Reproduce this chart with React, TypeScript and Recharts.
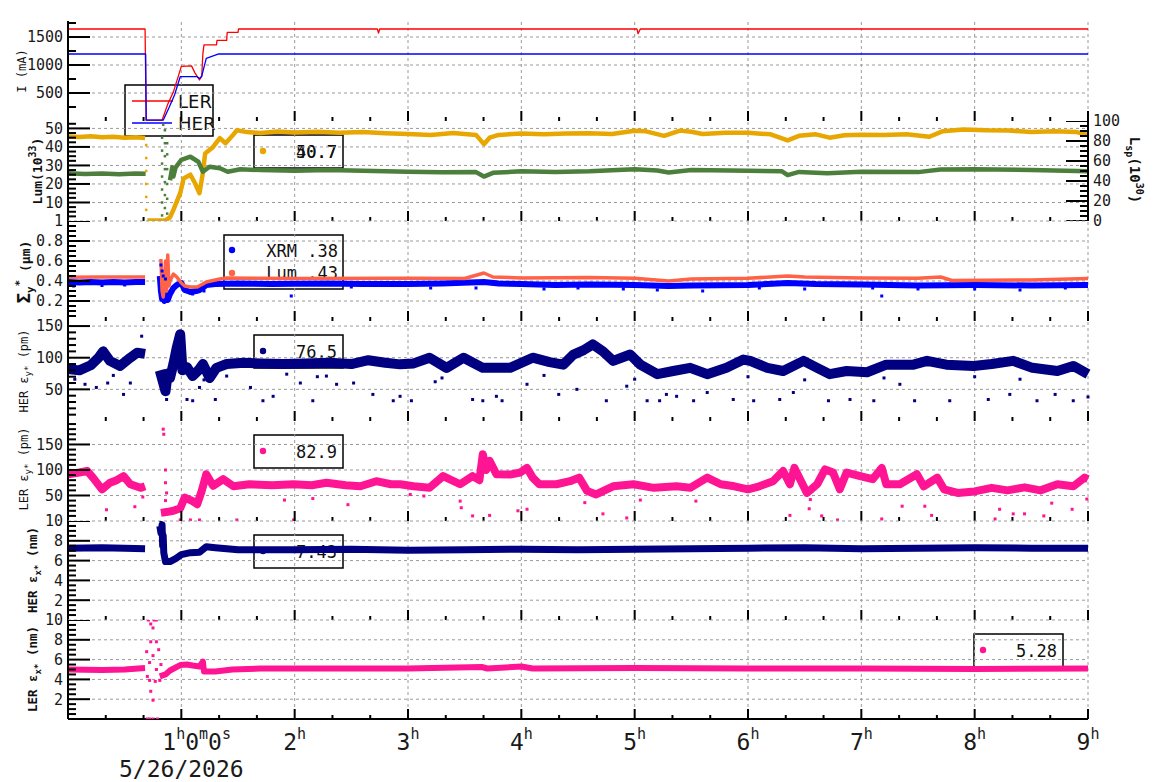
import React from "react";
import { ComposedChart, Line, Scatter, XAxis, YAxis, ReferenceLine } from "recharts";

type Pt = [number, number | null];

const FONT = "'DejaVu Sans Mono', monospace";
const AX = { stroke: "#000", strokeWidth: 2 };
const GRID = "#9a9a9a";

const HOURS = [1, 2, 3, 4, 5, 6, 7, 8, 9];
const X_TICKS = Array.from({ length: 28 }, (_, i) => i / 3);
const DATE_LABEL = "5/26/2026";

// beam currents, mA
const LER_I: Pt[] = [
  [0, 1643], [0.3, 1643], [0.68, 1643], [0.685, 820], [0.69, 15], [0.83, 15], [0.88, 300], [0.93, 520],
  [0.97, 780], [1.0, 975], [1.09, 985], [1.12, 860], [1.16, 732], [1.18, 800], [1.19, 1200], [1.2, 1360],
  [1.31, 1360], [1.315, 1440], [1.4, 1440], [1.405, 1584], [1.5, 1584], [1.505, 1643], [2.73, 1643],
  [2.74, 1570], [2.75, 1643], [5.02, 1643], [5.03, 1560], [5.05, 1643], [9, 1643],
];
const HER_I: Pt[] = [
  [0, 1197], [0.3, 1197], [0.685, 1197], [0.69, 15], [0.84, 15], [0.89, 232], [0.94, 464], [0.99, 791],
  [1.14, 791], [1.16, 760], [1.18, 800], [1.22, 1120], [1.33, 1197], [9, 1197],
];

// luminosity (10^33)
const LUM: Pt[] = [
  [0, 45.6], [0.1, 45.3], [0.2, 45.8], [0.3, 45.2], [0.4, 45.5], [0.5, 44.9], [0.6, 45.2], [0.68, 44.8],
  [0.69, null], [0.7, 0.3], [0.86, 0.3], [0.9, 2], [0.93, 6], [0.99, 15], [1.02, 23], [1.08, 25], [1.12, 20.5],
  [1.16, 15], [1.19, 26], [1.21, 36.5], [1.28, 40], [1.34, 44.8], [1.39, 42], [1.45, 46], [1.49, 49],
  [1.58, 48], [1.7, 47.5], [1.85, 48.3], [2.0, 47.8], [2.2, 48.2], [2.4, 47.6], [2.6, 48.0], [2.8, 47.4],
  [3.0, 47.0], [3.2, 46.5], [3.4, 47.5], [3.6, 46.5], [3.67, 41.5], [3.72, 45], [3.8, 46.5], [4.0, 47.2],
  [4.2, 46.8], [4.4, 47.3], [4.6, 47.4], [4.8, 47.0], [5.0, 48.7], [5.1, 48.4], [5.26, 46.0], [5.4, 48.8],
  [5.5, 48.2], [5.6, 47.0], [5.8, 47.6], [6.0, 47.6], [6.2, 46.8], [6.35, 43.5], [6.45, 46.0], [6.6, 46.8],
  [6.72, 45.0], [6.85, 46.3], [7.0, 46.6], [7.2, 46.5], [7.4, 46.8], [7.6, 45.5], [7.72, 48.5], [7.9, 49.4],
  [8.1, 49.0], [8.3, 48.9], [8.5, 48.0], [8.7, 48.4], [8.9, 48.0], [9.0, 46.5],
];
const LUM_DROP: Pt[] = [[0.69, 6], [0.69, 13], [0.69, 20], [0.69, 27], [0.69, 34], [0.69, 41]];
const LSP: Pt[] = [
  [0, 25.8], [0.15, 25.4], [0.3, 25.7], [0.45, 25.3], [0.6, 25.6], [0.685, 25.5], [0.69, null],
  [0.9, 22], [0.92, 29], [0.93, 24], [0.95, 29], [1.0, 33], [1.08, 34.7], [1.15, 32], [1.19, 26.6],
  [1.25, 29.3], [1.34, 28.5], [1.41, 26.6], [1.52, 27.9], [1.7, 27.5], [2.0, 27.2], [2.3, 27.5], [2.6, 27.1],
  [3.0, 26.6], [3.3, 26.3], [3.6, 26.4], [3.67, 24.0], [3.75, 26.0], [4.0, 26.8], [4.3, 26.5], [4.6, 26.8],
  [5.0, 28.0], [5.2, 27.3], [5.3, 26.2], [5.5, 27.5], [6.0, 27.2], [6.3, 26.8], [6.35, 24.8], [6.45, 26.5],
  [6.7, 25.8], [7.0, 26.6], [7.5, 26.4], [7.7, 27.8], [8.0, 28.0], [8.5, 27.6], [9.0, 26.8],
];
const LSP_SPIKES: Pt[] = [
  [0.83, 3], [0.83, 10], [0.83, 17], [0.83, 24], [0.83, 31], [0.83, 38], [0.83, 45], [0.84, 52],
  [0.855, 49], [0.855, 42], [0.855, 35], [0.855, 28], [0.855, 21], [0.855, 14], [0.855, 7],
  [0.875, 4], [0.875, 12], [0.875, 20], [0.875, 28], [0.875, 36], [0.875, 42],
];

// vertical beam size (um)
const SIG_XRM: Pt[] = [
  [0, 0.39], [0.1, 0.385], [0.2, 0.39], [0.3, 0.385], [0.4, 0.39], [0.5, 0.385], [0.6, 0.39], [0.68, 0.39],
  [0.69, null], [0.81, 0.45], [0.82, 0.3], [0.83, 0.22], [0.84, 0.26], [0.85, 0.2], [0.86, 0.3], [0.87, 0.24],
  [0.88, 0.21], [0.9, 0.27], [0.93, 0.33], [0.96, 0.36], [1.0, 0.38], [1.03, 0.31], [1.08, 0.29], [1.13, 0.3],
  [1.16, 0.31], [1.22, 0.36], [1.3, 0.37], [1.5, 0.375], [1.8, 0.37], [2.0, 0.372], [2.3, 0.375], [2.6, 0.37],
  [3.0, 0.37], [3.3, 0.375], [3.67, 0.39], [3.8, 0.375], [4.0, 0.37], [4.3, 0.36], [4.6, 0.365], [5.0, 0.36],
  [5.3, 0.35], [5.5, 0.355], [6.0, 0.36], [6.35, 0.38], [6.6, 0.37], [7.0, 0.365], [7.5, 0.355], [8.0, 0.36],
  [8.5, 0.355], [9.0, 0.36],
];
const SIG_XRM_OUT: Pt[] = [
  [0.05, 0.35], [0.3, 0.355], [0.5, 0.36], [0.82, 0.56], [0.83, 0.5], [0.84, 0.45], [0.86, 0.42], [1.1, 0.27],
  [1.2, 0.3], [1.97, 0.25], [2.5, 0.34], [3.2, 0.33], [3.6, 0.33], [4.2, 0.32], [4.5, 0.33], [4.9, 0.32],
  [5.2, 0.31], [5.6, 0.3], [6.1, 0.33], [6.5, 0.32], [7.1, 0.33], [7.18, 0.25], [7.5, 0.32], [8.0, 0.32],
  [8.4, 0.31], [8.8, 0.33],
];
const SIG_LUM: Pt[] = [
  [0, 0.437], [0.3, 0.44], [0.68, 0.44], [0.69, null], [0.82, 0.62], [0.83, 0.3], [0.84, 0.24], [0.85, 0.35],
  [0.86, 0.6], [0.87, 0.3], [0.88, 0.66], [0.89, 0.35], [0.9, 0.4], [0.93, 0.47], [0.96, 0.44], [1.0, 0.38],
  [1.03, 0.35], [1.08, 0.34], [1.14, 0.34], [1.19, 0.37], [1.22, 0.39], [1.3, 0.41], [1.34, 0.42], [1.4, 0.43],
  [2.0, 0.425], [3.0, 0.427], [3.5, 0.425], [3.67, 0.48], [3.75, 0.44], [4.0, 0.43], [4.6, 0.435], [5.0, 0.427],
  [5.3, 0.4], [5.5, 0.42], [6.0, 0.427], [6.35, 0.45], [6.5, 0.44], [7.0, 0.43], [7.5, 0.427], [7.7, 0.44],
  [7.8, 0.405], [8.5, 0.41], [9.0, 0.425],
];

// HER vertical emittance (pm)
const HER_EY: Pt[] = [
  [0, 82], [0.1, 80], [0.2, 88], [0.27, 100], [0.31, 110], [0.37, 95], [0.46, 87], [0.55, 100], [0.61, 108],
  [0.68, 106], [0.69, null], [0.81, 80], [0.84, 60], [0.86, 47], [0.88, 75], [0.9, 68], [0.93, 90], [0.96, 116],
  [0.99, 137], [1.01, 80], [1.05, 85], [1.1, 71], [1.15, 80], [1.19, 90], [1.25, 68], [1.31, 84], [1.4, 90],
  [1.55, 92], [1.7, 91], [1.9, 90], [2.1, 91], [2.3, 92], [2.5, 90], [2.65, 96], [2.8, 92], [2.93, 89.5],
  [3.05, 91], [3.19, 100], [3.34, 84], [3.49, 100], [3.66, 84], [3.9, 84], [4.1, 100], [4.25, 93], [4.37, 89],
  [4.46, 105], [4.55, 112], [4.63, 121], [4.72, 110], [4.81, 95], [4.96, 105], [5.05, 89], [5.2, 74],
  [5.34, 79], [5.49, 84], [5.64, 74], [5.81, 84], [5.96, 97], [6.02, 95], [6.17, 84], [6.31, 79], [6.49, 95],
  [6.61, 84], [6.72, 74], [6.87, 79], [7.05, 77], [7.22, 89], [7.46, 89], [7.58, 95], [7.75, 89], [7.99, 87],
  [8.15, 90], [8.34, 95], [8.51, 84], [8.73, 79], [8.87, 87], [9.0, 74],
];
const HER_EY_OUT: Pt[] = [
  [0.06, 66], [0.15, 58], [0.25, 53], [0.35, 60], [0.4, 72], [0.49, 42], [0.55, 60], [0.65, 134], [0.87, 34],
  [1.05, 34], [1.1, 32], [1.16, 53], [1.2, 65], [1.3, 34], [1.4, 71], [1.61, 53], [1.72, 32], [1.81, 39],
  [1.93, 74], [2.05, 60], [2.16, 32], [2.2, 70], [2.28, 71], [2.37, 58], [2.52, 60], [2.69, 42], [2.87, 32],
  [2.93, 39], [3.03, 32], [3.24, 62], [3.3, 68], [3.57, 34], [3.66, 32], [3.78, 39], [3.83, 32], [4.05, 58],
  [4.2, 72], [4.33, 42], [4.49, 50], [4.75, 32], [4.93, 55], [5.0, 66], [5.11, 32], [5.22, 32], [5.28, 42],
  [5.37, 39], [5.52, 32], [5.64, 45], [5.87, 34], [6.0, 70], [6.05, 32], [6.28, 34], [6.4, 45], [6.5, 65],
  [6.71, 32], [6.9, 34], [7.11, 32], [7.2, 68], [7.34, 58], [7.47, 32], [7.78, 32], [8.0, 70], [8.12, 34],
  [8.31, 42], [8.4, 66], [8.55, 32], [8.71, 42], [8.87, 32], [9.0, 38],
];

// LER vertical emittance (pm)
const LER_EY: Pt[] = [
  [0, 91.5], [0.1, 95], [0.17, 98], [0.22, 85], [0.3, 62], [0.37, 75], [0.43, 80], [0.49, 88], [0.55, 72],
  [0.64, 65], [0.68, 68], [0.69, null], [0.82, 16], [0.88, 18], [0.93, 20], [0.99, 25], [1.03, 46], [1.1, 39],
  [1.14, 33], [1.18, 59], [1.22, 91.5], [1.28, 69], [1.37, 82], [1.46, 68], [1.6, 72], [1.8, 70], [1.99, 72],
  [2.15, 70], [2.28, 75], [2.45, 70], [2.58, 68], [2.72, 78], [2.85, 72], [2.93, 72], [3.05, 68], [3.19, 65],
  [3.31, 88], [3.46, 72], [3.57, 88], [3.63, 80], [3.66, 131], [3.69, 100], [3.72, 118], [3.78, 91.5],
  [3.9, 91], [3.99, 95], [4.05, 104], [4.1, 85], [4.16, 72], [4.31, 72], [4.43, 78], [4.51, 85], [4.58, 59],
  [4.66, 52], [4.81, 68], [4.99, 72], [5.17, 65], [5.37, 68], [5.49, 65], [5.64, 85], [5.76, 72], [5.88, 68],
  [6.0, 62], [6.1, 68], [6.22, 78], [6.31, 98], [6.37, 72], [6.41, 104], [6.52, 55], [6.61, 72], [6.68, 101],
  [6.75, 95], [6.81, 62], [6.87, 95], [6.99, 88], [7.1, 82], [7.18, 104], [7.22, 72], [7.34, 72], [7.49, 91.5],
  [7.55, 68], [7.67, 85], [7.73, 62], [7.85, 55], [8.0, 58], [8.15, 65], [8.29, 60], [8.44, 66], [8.58, 60],
  [8.73, 72], [8.87, 68], [8.97, 85], [9.0, 82],
];
const LER_EY_OUT: Pt[] = [
  [0.34, 22], [0.59, 28], [0.66, 47], [0.84, 180], [0.845, 170], [0.86, 100], [0.86, 75], [0.87, 55],
  [0.86, 40], [0.99, 2], [1.08, 2], [1.16, 2], [1.49, 2], [1.91, 41], [1.99, 2], [2.16, 44], [2.47, 32],
  [3.02, 52], [3.14, 49], [3.46, 39], [3.47, 26], [3.57, 10], [3.72, 11], [3.97, 20], [4.05, 23], [4.56, 36],
  [4.72, 14], [4.93, 6], [5.05, 41], [5.54, 39], [6.37, 11], [6.55, 42], [6.54, 24], [6.65, 10], [6.79, 2],
  [7.18, 4], [7.36, 29], [7.56, 29], [7.62, 11], [8.18, 4], [8.22, 23], [8.34, 14], [8.44, 14], [8.61, 10],
  [8.68, 35], [8.86, 23], [8.99, 43],
];

// horizontal emittances (nm)
const HER_EX: Pt[] = [
  [0, 7.25], [0.3, 7.3], [0.5, 7.25], [0.68, 7.2], [0.69, null], [0.81, 9.5], [0.82, 8.8], [0.83, 9.6],
  [0.835, 7.5], [0.84, 8.5], [0.845, 6.8], [0.85, 6.5], [0.86, 5.9], [0.9, 5.9], [0.95, 6.2], [1.0, 6.6],
  [1.08, 6.8], [1.16, 6.85], [1.22, 7.4], [1.3, 7.3], [1.5, 7.1], [2.0, 7.1], [2.5, 7.15], [3.0, 7.05],
  [3.5, 7.1], [4.0, 7.15], [4.5, 7.1], [5.0, 7.15], [5.5, 7.2], [6.0, 7.25], [6.5, 7.3], [7.0, 7.2], [7.5, 7.25],
  [8.0, 7.3], [8.5, 7.25], [9.0, 7.25],
];
const HER_EX_OUT: Pt[] = [[0.82, 10], [0.825, 9.2], [0.83, 8.3], [0.835, 6.6], [0.84, 7.7], [0.85, 8.7], [0.845, 7.2]];
const LER_EX: Pt[] = [
  [0, 5.0], [0.3, 4.95], [0.5, 5.0], [0.68, 5.15], [0.69, null], [0.81, 4.3], [0.86, 4.5], [0.9, 4.9],
  [0.99, 5.45], [1.05, 5.5], [1.1, 5.4], [1.16, 5.3], [1.19, 5.8], [1.2, 4.8], [1.3, 4.8], [1.45, 5.0],
  [1.7, 5.1], [2.0, 5.1], [3.0, 5.1], [3.65, 5.25], [3.7, 5.1], [4.0, 5.3], [4.1, 5.1], [5.0, 5.15], [6.0, 5.1],
  [7.0, 5.1], [8.0, 5.05], [9.0, 5.1],
];
const LER_EX_OUT: Pt[] = [
  [0.694, 6.8], [0.7, 4.3], [0.72, 3.9], [0.71, 10], [0.73, 9.6], [0.75, 9.2], [0.76, 10], [0.78, 10],
  [0.73, 7.8], [0.75, 6.4], [0.72, 5.7], [0.73, 2.8], [0.75, 1.9], [0.78, 7.8], [0.79, 0], [0.7, 0], [0.72, 0],
  [0.75, 0], [0.81, 3.9], [0.8, 7], [0.78, 5], [0.77, 3.8], [0.82, 5.5],
];

const LEGEND_I = ["LER", "HER"];
const LEGEND_LUM = ["50.7", "40.7"];
const LEGEND_SIG = ["XRM  .38", "Lum  .43"];
const LEGEND_HER_EY = "76.5";
const LEGEND_LER_EY = "82.9";
const LEGEND_HER_EX = "7.43";
const LEGEND_LER_EX = "5.28";

const rows = (a: Pt[]) => a.map(([t, v]) => ({ t, v }));
const steps = (step: number, n: number) => Array.from({ length: n }, (_, i) => Math.round((i + 1) * step * 1000) / 1000);
const isHour = (t: number) => Math.abs(t - Math.round(t)) < 1e-6;

// inward tick marks: a scatter of the tick values, so the axis scales place them
const hBar = (len: number, dir: 1 | -1) => (s: any) => (
  <rect x={dir === 1 ? s.cx : s.cx - len} y={s.cy - 1} width={len} height={2} fill="#000" />
);
const vBar = (len: number) => (s: any) => <rect x={s.cx - 1} y={s.cy - len} width={2} height={len} fill="#000" />;

function YTick(props: any) {
  const { x, y, payload, majors, side } = props;
  const v = payload.value;
  if (!majors.includes(v)) return <g />;
  return (
    <text x={side === "right" ? x + 5 : x - 5} y={y} dy="0.36em" textAnchor={side === "right" ? "start" : "end"}
      fontFamily={FONT} fontSize={15} fill="#1a1a1a">{String(v)}</text>
  );
}

function XTick(props: any) {
  const { x, y, payload, labels } = props;
  const v = payload.value as number;
  const hr = Math.round(v);
  if (!labels || !isHour(v) || hr < 1) return <g />;
  if (hr === 1) {
    return (
      <g fontFamily={FONT} fill="#1a1a1a">
        <text x={x - 19} y={y + 31} fontSize={23}>
          1<tspan dy={-11} fontSize={15}>h</tspan><tspan dy={11}>0</tspan>
          <tspan dy={-11} fontSize={15}>m</tspan><tspan dy={11}>0</tspan>
          <tspan dy={-11} fontSize={15}>s</tspan>
        </text>
        <text x={x} y={y + 58} fontSize={23} textAnchor="middle">{DATE_LABEL}</text>
      </g>
    );
  }
  return (
    <text x={x} y={y + 31} fontSize={23} textAnchor="middle" fontFamily={FONT} fill="#1a1a1a">
      {hr}<tspan dy={-11} fontSize={15}>h</tspan>
    </text>
  );
}

function YTitle({ cx, cy, rot = -90, size, bold, parts }: any) {
  return (
    <text x={cx} y={cy} dy="0.35em" transform={`rotate(${rot} ${cx} ${cy})`} textAnchor="middle"
      fontFamily={FONT} fontSize={size} fontWeight={bold ? 700 : 400} fill="#111">{parts}</text>
  );
}

function ValueBox({ x, w = 89, color, text }: { x: number; w?: number; color: string; text: string }) {
  return (
    <g>
      <rect x={x} y={14} width={w} height={33} fill="#fff" stroke="#000" strokeWidth={1.5} />
      <circle cx={x + 9} cy={30} r={3.2} fill={color} />
      <text x={x + w - 6} y={37} textAnchor="end" fontFamily={FONT} fontSize={17} fill="#111">{text}</text>
    </g>
  );
}

type Layer = { data: Pt[]; color: string; width?: number; dots?: number };

function Panel(p: {
  top: number; plotH: number; xLabels?: boolean; domain: [number, number]; ticks: number[]; majors: number[];
  title: React.ReactElement; layers: Layer[]; legend?: React.ReactNode;
  right?: { domain: [number, number]; ticks: number[]; majors: number[]; title: React.ReactElement };
}) {
  const h = p.plotH + (p.xLabels ? 63 : 0);
  const lo = p.domain[0];
  const yMajor = p.ticks.filter((v) => p.majors.includes(v)).map((v) => ({ t: 0, v }));
  const yMinor = p.ticks.filter((v) => !p.majors.includes(v)).map((v) => ({ t: 0, v }));
  const xMajor = X_TICKS.filter(isHour).map((t) => ({ t, v: lo }));
  const xMinor = X_TICKS.filter((t) => !isHour(t)).map((t) => ({ t, v: lo }));
  return (
    <div className="panel" style={{ position: "absolute", left: 0, top: p.top, width: 1160, height: h }}>
      <ComposedChart width={1160} height={h} margin={{ top: 0, right: p.right ? 0 : 72, bottom: 0, left: 0 }}>
        {p.majors.map((v) => (
          <ReferenceLine key={"h" + v} y={v} stroke={GRID} strokeDasharray="3 3" strokeWidth={1} ifOverflow="visible" />
        ))}
        {HOURS.map((v) => (
          <ReferenceLine key={"v" + v} x={v} stroke={GRID} strokeDasharray="3 3" strokeWidth={1} ifOverflow="visible" />
        ))}
        <XAxis xAxisId="top" orientation="top" type="number" dataKey="t" domain={[0, 9]} height={0}
          tick={false} tickLine={false} axisLine={AX} />
        <XAxis type="number" dataKey="t" domain={[0, 9]} ticks={X_TICKS} interval={0} height={p.xLabels ? 63 : 0}
          tickSize={0} tickMargin={0} tickLine={false} axisLine={AX} tick={<XTick labels={p.xLabels} />} />
        <YAxis type="number" dataKey="v" domain={p.domain} ticks={p.ticks} interval={0} width={68} tickSize={0}
          tickMargin={0} tickLine={false} axisLine={AX} allowDataOverflow
          tick={<YTick majors={p.majors} side="left" />} label={p.title} />
        {p.right && (
          <YAxis yAxisId="r" orientation="right" type="number" dataKey="v" domain={p.right.domain} ticks={p.right.ticks}
            interval={0} width={72} tickSize={0} tickMargin={0} tickLine={false} axisLine={AX} allowDataOverflow
            tick={<YTick majors={p.right.majors} side="right" />} label={p.right.title} />
        )}
        {p.legend}
        {p.layers.map((l, i) =>
          l.dots ? (
            <Scatter key={i} data={rows(l.data)} dataKey="v" fill={l.color} isAnimationActive={false}
              shape={(s: any) => (
                <rect x={s.cx - l.dots! / 2} y={s.cy - l.dots! / 2} width={l.dots} height={l.dots} fill={l.color} />
              )} />
          ) : (
            <Line key={i} data={rows(l.data)} dataKey="v" type="linear" stroke={l.color} strokeWidth={l.width ?? 1.3}
              strokeLinejoin="round" dot={false} activeDot={false} connectNulls={false} isAnimationActive={false} />
          )
        )}
        <Scatter data={yMajor} dataKey="v" isAnimationActive={false} shape={hBar(22, 1)} />
        <Scatter data={yMinor} dataKey="v" isAnimationActive={false} shape={hBar(8, 1)} />
        <Scatter data={xMajor} dataKey="v" isAnimationActive={false} shape={vBar(10)} />
        <Scatter data={xMinor} dataKey="v" isAnimationActive={false} shape={vBar(4)} />
        {p.right && (
          <Scatter yAxisId="r" dataKey="v" isAnimationActive={false} shape={hBar(22, -1)}
            data={p.right.ticks.filter((v) => p.right!.majors.includes(v)).map((v) => ({ t: 9, v }))} />
        )}
        {p.right && (
          <Scatter yAxisId="r" dataKey="v" isAnimationActive={false} shape={hBar(8, -1)}
            data={p.right.ticks.filter((v) => !p.right!.majors.includes(v)).map((v) => ({ t: 9, v }))} />
        )}
      </ComposedChart>
    </div>
  );
}

const NAVY = "#000080";
const PINK = "#ff1493";

export default function App() {
  return (
    <div style={{ position: "absolute", left: 0, top: 0, width: 1160, height: 782, background: "#fff" }}>
      <style>{".panel svg{overflow:visible}"}</style>

      <Panel top={21} plotH={100} domain={[0, 1786]} ticks={steps(250, 7)} majors={[500, 1000, 1500]}
        title={<YTitle cx={22} cy={50} size={12} parts="I (mA)" />}
        legend={
          <g>
            <rect x={125} y={64} width={88} height={51} fill="#fff" stroke="#000" strokeWidth={1.5} />
            <line x1={132} x2={173} y1={80} y2={80} stroke="#ff0000" strokeWidth={1.3} />
            <text x={178} y={87} fontFamily="'DejaVu Sans', sans-serif" fontSize={18} fill="#111">{LEGEND_I[0]}</text>
            <line x1={132} x2={172} y1={102} y2={102} stroke="#0000ff" strokeWidth={1.3} />
            <text x={178} y={109} fontFamily="'DejaVu Sans', sans-serif" fontSize={18} fill="#111">{LEGEND_I[1]}</text>
          </g>
        }
        layers={[{ data: LER_I, color: "#ff0000" }, { data: HER_I, color: "#0000ff" }]} />

      <Panel top={121} plotH={100} domain={[0, 54]} ticks={steps(2.5, 21)} majors={[10, 20, 30, 40, 50]}
        title={<YTitle cx={37} cy={50} size={13} bold parts={<>Lum(10<tspan dy={-6} fontSize={10}>33</tspan><tspan dy={6}>)</tspan></>} />}
        right={{
          domain: [0, 100], ticks: [0, ...steps(5, 20)], majors: [0, 20, 40, 60, 80, 100],
          title: <YTitle cx={1135} cy={49} rot={90} size={14} bold
            parts={<>L<tspan dy={4} fontSize={10}>sp</tspan><tspan dy={-4}>(10</tspan><tspan dy={-6} fontSize={10}>30</tspan><tspan dy={6}>)</tspan></>} />,
        }}
        legend={
          <g>
            <ValueBox x={254} color="#e8a600" text={LEGEND_LUM[0]} />
            <text x={337} y={37} textAnchor="end" fontFamily={FONT} fontSize={17} fill="#111">{LEGEND_LUM[1]}</text>
          </g>
        }
        layers={[
          { data: LUM, color: "#e8a600", width: 4.5 },
          { data: LUM_DROP, color: "#e8a600", dots: 2.5 },
          { data: LSP, color: "#4b7f3b", width: 4.5 },
          { data: LSP_SPIKES, color: "#4b7f3b", dots: 2.5 },
        ]} />

      <Panel top={221} plotH={100} domain={[0, 1]} ticks={steps(0.05, 20)} majors={[0.2, 0.4, 0.6, 0.8, 1]}
        title={<YTitle cx={25} cy={51} size={13} bold
          parts={<><tspan fontSize={17}>Σ</tspan><tspan dy={4} fontSize={11}>y</tspan><tspan dy={-11} fontSize={11}>*</tspan><tspan dy={7}> (μm)</tspan></>} />}
        legend={
          <g>
            <rect x={224} y={14} width={119} height={54} fill="#fff" stroke="#000" strokeWidth={1.5} />
            <circle cx={232} cy={29} r={3.2} fill="#0000ff" />
            <text x={338} y={36} textAnchor="end" fontFamily={FONT} fontSize={17} fill="#111">{LEGEND_SIG[0]}</text>
            <circle cx={232} cy={52} r={3.2} fill="#ff6347" />
            <text x={338} y={58} textAnchor="end" fontFamily={FONT} fontSize={17} fill="#111">{LEGEND_SIG[1]}</text>
          </g>
        }
        layers={[
          { data: SIG_XRM, color: "#0000ff", width: 6 },
          { data: SIG_XRM_OUT, color: "#0000ff", dots: 3 },
          { data: SIG_LUM, color: "#ff6347", width: 3.5 },
        ]} />

      <Panel top={321} plotH={100} domain={[0, 158]} ticks={steps(10, 15)} majors={[50, 100, 150]}
        title={<YTitle cx={24} cy={50} size={12}
          parts={<>HER ε<tspan dy={3} fontSize={9}>y*</tspan><tspan dy={-3}> (pm)</tspan></>} />}
        legend={<ValueBox x={254} color={NAVY} text={LEGEND_HER_EY} />}
        layers={[{ data: HER_EY, color: NAVY, width: 10 }, { data: HER_EY_OUT, color: NAVY, dots: 3 }]} />

      <Panel top={421} plotH={100} domain={[0, 196]} ticks={steps(10, 19)} majors={[50, 100, 150]}
        title={<YTitle cx={24} cy={48} size={12}
          parts={<>LER ε<tspan dy={3} fontSize={9}>y*</tspan><tspan dy={-3}> (pm)</tspan></>} />}
        legend={<ValueBox x={254} color={PINK} text={LEGEND_LER_EY} />}
        layers={[{ data: LER_EY, color: PINK, width: 8 }, { data: LER_EY_OUT, color: PINK, dots: 3 }]} />

      <Panel top={521} plotH={99} domain={[0, 10]} ticks={steps(0.5, 20)} majors={[2, 4, 6, 8, 10]}
        title={<YTitle cx={33} cy={49} size={12.5} bold
          parts={<>HER ε<tspan dy={4} fontSize={9}>x*</tspan><tspan dy={-4}> (nm)</tspan></>} />}
        legend={<ValueBox x={254} color={NAVY} text={LEGEND_HER_EX} />}
        layers={[{ data: HER_EX, color: NAVY, width: 7 }, { data: HER_EX_OUT, color: NAVY, dots: 3 }]} />

      <Panel top={620} plotH={99} xLabels domain={[0, 10]} ticks={steps(0.5, 20)} majors={[2, 4, 6, 8, 10]}
        title={<YTitle cx={33} cy={49} size={12.5} bold
          parts={<>LER ε<tspan dy={4} fontSize={9}>x*</tspan><tspan dy={-4}> (nm)</tspan></>} />}
        legend={<ValueBox x={974} color={PINK} text={LEGEND_LER_EX} />}
        layers={[{ data: LER_EX, color: PINK, width: 6 }, { data: LER_EX_OUT, color: PINK, dots: 3 }]} />
    </div>
  );
}
